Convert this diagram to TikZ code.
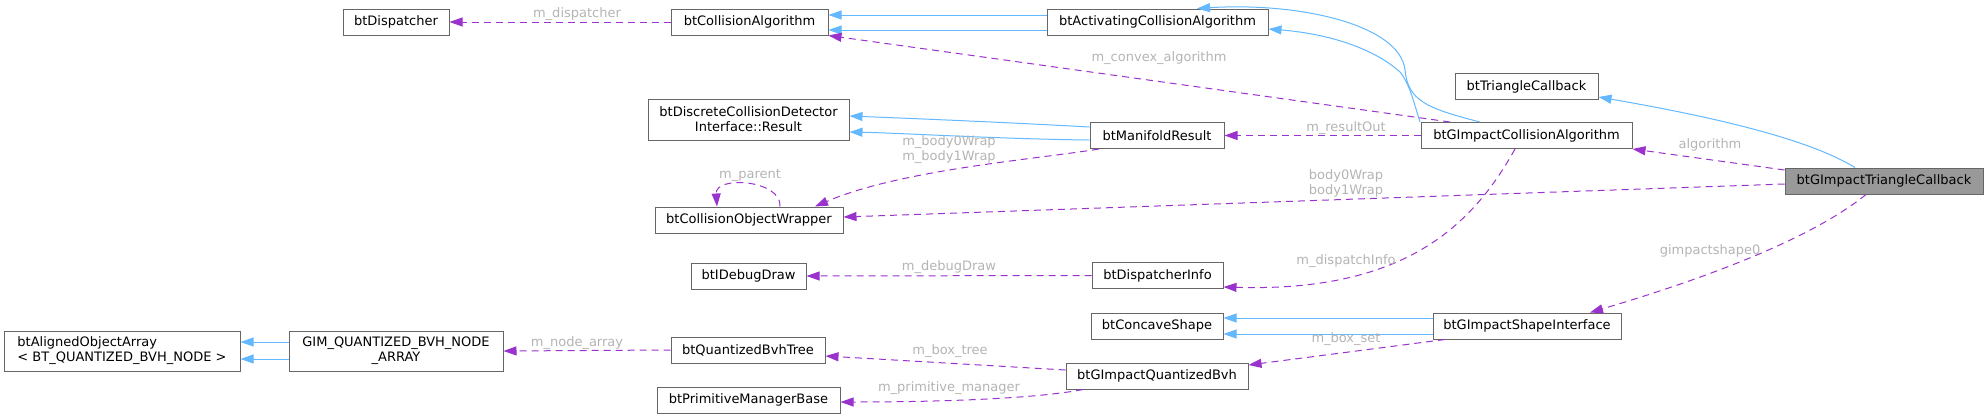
\documentclass[tikz,border=0pt]{standalone}
\usepackage{fontspec}
\setmainfont{DejaVu Sans}
\usepackage{xcolor}
\usetikzlibrary{arrows.meta, calc}
\definecolor{edgepurple}{HTML}{9A32CD}
\definecolor{edgeblue}{HTML}{63B8FF}
\definecolor{boxgray}{HTML}{666666}
\definecolor{lblgray}{HTML}{B4B4B4}
\definecolor{curfill}{HTML}{999999}

\begin{document}
\begin{tikzpicture}[x=1pt, y=-1pt,
    cls/.style={draw=boxgray, fill=white, line width=1pt, rectangle, inner sep=0pt, minimum height=26pt, font=\fontsize{13}{15}\selectfont},
    member/.style={edgepurple, line width=1pt, dash pattern=on 7pt off 5pt, -{Triangle[length=13pt, width=9pt]}},
    inherit/.style={edgeblue, line width=1pt, -{Triangle[length=13pt, width=9pt]}},
    lbl/.style={lblgray, inner sep=0pt, font=\fontsize{13}{15}\selectfont, align=center}]
    \useasboundingbox (0,0) rectangle (1988,418);

    \node (disp) [cls, minimum width=106pt] at (396,22) {btDispatcher};
    \node (colalg) [cls, minimum width=157pt] at (749.5,22) {btCollisionAlgorithm};
    \node (actalg) [cls, minimum width=221pt] at (1157.5,22) {btActivatingCollisionAlgorithm};
    \node (dcdres) [cls, minimum width=201pt, minimum height=41pt, align=center] at (748.5,119.5) {btDiscreteCollisionDetector\\Interface::Result};
    \node (mres) [cls, minimum width=134pt] at (1157,135.5) {btManifoldResult};
    \node (tricb) [cls, minimum width=143pt] at (1526.5,86.5) {btTriangleCallback};
    \node (gcalg) [cls, minimum width=211pt] at (1526.5,135.5) {btGImpactCollisionAlgorithm};
    \node (gtcb) [cls, fill=curfill, minimum width=198pt] at (1884,181) {btGImpactTriangleCallback};
    \node (cow) [cls, minimum width=188pt] at (749,220) {btCollisionObjectWrapper};
    \node (dbg) [cls, minimum width=115pt] at (748.5,276) {btIDebugDraw};
    \node (dinfo) [cls, minimum width=131pt] at (1157.5,275.5) {btDispatcherInfo};
    \node (aoa) [cls, minimum width=236pt, minimum height=40pt, align=left] at (122,351) {btAlignedObjectArray\\< BT\_QUANTIZED\_BVH\_NODE >};
    \node (gimarr) [cls, minimum width=214pt, minimum height=40pt, align=center] at (396,351) {GIM\_QUANTIZED\_BVH\_NODE\\\_ARRAY};
    \node (qbvht) [cls, minimum width=154pt] at (748,350) {btQuantizedBvhTree};
    \node (pmb) [cls, minimum width=183pt] at (748.5,400) {btPrimitiveManagerBase};
    \node (ccs) [cls, minimum width=132pt] at (1157,326) {btConcaveShape};
    \node (gqbvh) [cls, minimum width=182pt] at (1157,376) {btGImpactQuantizedBvh};
    \node (gsi) [cls, minimum width=188pt] at (1527,326) {btGImpactShapeInterface};

    \draw[inherit] (actalg.west |- 0,15) -- (colalg.east |- 0,15);
    \draw[inherit] (actalg.west |- 0,30) -- (colalg.east |- 0,30);
    \draw[inherit] (gcalg.north -| 1480,0) .. controls (1425,108) and (1408,100) .. (1405,70) .. controls (1400,25) and (1300,2) .. (actalg.north -| 1197,0);
    \draw[inherit] (gcalg.north -| 1420,0) .. controls (1413,100) and (1410,85) .. (1400,72) .. controls (1370,45) and (1320,33) .. (actalg.east |- 0,29);
    \draw[inherit] (gtcb.north -| 1855,0) .. controls (1810,140) and (1720,118) .. (tricb.east |- 0,97);
    \draw[inherit] (mres.west |- 0,127) .. controls (1000,122) and (900,118) .. (dcdres.east |- 0,116);
    \draw[inherit] (mres.west |- 0,140) .. controls (1000,139) and (900,133) .. (dcdres.east |- 0,132);
    \draw[inherit] (gsi.west |- 0,318) -- (ccs.east |- 0,318);
    \draw[inherit] (gsi.west |- 0,334) -- (ccs.east |- 0,334);
    \draw[inherit] (gimarr.west |- 0,342) -- (aoa.east |- 0,342);
    \draw[inherit] (gimarr.west |- 0,359) -- (aoa.east |- 0,359);

    \draw[member] (colalg.west) -- (disp.east);
    \draw[member] (gcalg.north -| 1450,0) -- (colalg.south east);
    \draw[member] (gcalg.west) -- (mres.east);
    \draw[member] (mres.south -| 1099,0) .. controls (1030,160) and (900,170) .. (cow.north -| 815,0);
    \draw[member] (cow.north -| 780,0) .. controls (782,180) and (715,175) .. (cow.north -| 717,0);
    \draw[member] (gtcb.west |- 0,184) -- (cow.east |- 0,217);
    \draw[member] (gtcb.west |- 0,170) -- (gcalg.south east);
    \draw[member] (gcalg.south -| 1515,0) .. controls (1470,230) and (1400,292) .. (dinfo.east |- 0,287);
    \draw[member] (dinfo.west) -- (dbg.east);
    \draw[member] (gtcb.south -| 1866,0) .. controls (1810,240) and (1700,280) .. (gsi.north -| 1590,0);
    \draw[member] (gsi.south -| 1445,0) -- (gqbvh.east |- 0,365);
    \draw[member] (gqbvh.west |- 0,370) -- (qbvht.east |- 0,356);
    \draw[member] (gqbvh.south -| 1083,0) .. controls (1040,398) and (950,402) .. (pmb.east |- 0,402);
    \draw[member] (qbvht.west) -- (gimarr.east);

    \node (lDispatcher) [lbl] at (577,14) {m\_dispatcher};
    \node (lConvex) [lbl] at (1159,58) {m\_convex\_algorithm};
    \node (lResultOut) [lbl] at (1346,128) {m\_resultOut};
    \node (lBodyWrapM) [lbl] at (949,150) {m\_body0Wrap\\m\_body1Wrap};
    \node (lParent) [lbl] at (750,175) {m\_parent};
    \node (lBodyWrap) [lbl] at (1346,183) {body0Wrap\\body1Wrap};
    \node (lAlgorithm) [lbl] at (1710,145) {algorithm};
    \node (lDebugDraw) [lbl] at (949,267) {m\_debugDraw};
    \node (lDispatchInfo) [lbl] at (1346,261) {m\_dispatchInfo};
    \node (lShape) [lbl] at (1710,251) {gimpactshape0};
    \node (lBoxSet) [lbl] at (1346,339) {m\_box\_set};
    \node (lNodeArray) [lbl] at (577,343) {m\_node\_array};
    \node (lBoxTree) [lbl] at (950,351) {m\_box\_tree};
    \node (lPrimMgr) [lbl] at (949,388) {m\_primitive\_manager};
\end{tikzpicture}
\end{document}
